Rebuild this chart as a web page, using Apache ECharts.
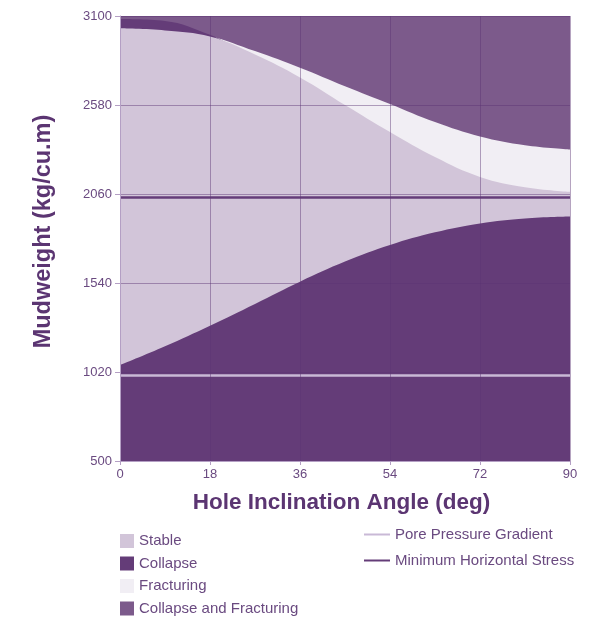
<!DOCTYPE html>
<html>
<head>
<meta charset="utf-8">
<script src="https://cdn.jsdelivr.net/npm/echarts@6/dist/echarts.min.js"></script>
<style>
  html, body { margin: 0; padding: 0; background: #fff; }
  #chart { width: 604px; height: 619px; }
</style>
</head>
<body>
<div id="chart"></div>
<script>
// hole inclination (deg)
const angles = [0, 9, 18, 27, 36, 45, 54, 63, 72, 81, 90]
// collapse limit (lower)
const collapseLow = [1060, 1170, 1290, 1418, 1548, 1665, 1762, 1836, 1888, 1917, 1928]
// lower fracturing limit (top of stable window)
const fracLow = [3028, 3016, 2980, 2875, 2741, 2580, 2422, 2276, 2160, 2100, 2073]
// upper fracturing limit
const fracHigh = [3060, 3050, 2985, 2895, 2798, 2690, 2586, 2480, 2396, 2345, 2320]
// upper collapse band, only at low inclination
const highAngles = [0, 9, 18, 22]
const collapseHigh = [3082, 3071, 2990, 2930]
const porePressure = 1000
const minHorizStress = 2040
const yTicks = [500, 1020, 1540, 2060, 2580, 3100]
const xTicks = [0, 18, 36, 54, 72, 90]

const textColor = '#6a4a80'
const titleColor = '#5b3572'
const fontFamily = '"Liberation Sans", Arial, sans-serif'

function pairs(xs, ys) {
  return xs.map((a, i) => [a, ys[i]])
}

function band(name, color, xs, ys) {
  return {
    name: name,
    type: 'line',
    smooth: 0.4,
    symbol: 'none',
    color: color,
    lineStyle: { width: 0, opacity: 0 },
    areaStyle: { color: color, opacity: 1, origin: 'start' },
    data: pairs(xs, ys)
  }
}

function flat(name, color, y) {
  return {
    name: name,
    type: 'line',
    symbol: 'none',
    color: color,
    lineStyle: { width: 2.5, color: color },
    z: 5,
    data: [[xTicks[0], y], [xTicks[xTicks.length - 1], y]]
  }
}

const chart = echarts.init(document.getElementById('chart'))
chart.setOption({
  animation: false,
  textStyle: { fontFamily: fontFamily },
  grid: { left: 120, top: 16, right: 34, bottom: 158 },
  legend: [
    {
      orient: 'vertical',
      left: 120,
      top: 533.5,
      height: 100,
      padding: 0,
      icon: 'rect',
      itemWidth: 14,
      itemHeight: 14,
      itemGap: 7.5,
      textStyle: { color: textColor, fontSize: 15, fontFamily: fontFamily },
      data: ['Stable', 'Collapse', 'Fracturing', 'Collapse and Fracturing']
    },
    {
      orient: 'vertical',
      left: 364,
      top: 527,
      height: 80,
      padding: 0,
      icon: 'rect',
      itemWidth: 26,
      itemHeight: 2,
      itemGap: 11,
      textStyle: { color: textColor, fontSize: 15, fontFamily: fontFamily },
      data: ['Pore Pressure Gradient', 'Minimum Horizontal Stress']
    }
  ],
  xAxis: {
    type: 'value',
    min: 0,
    max: 90,
    interval: 18,
    z: 10,
    name: 'Hole Inclination Angle (deg)',
    nameLocation: 'middle',
    nameGap: 30,
    nameTextStyle: { color: titleColor, fontSize: 22.5, fontWeight: 'bold', padding: [0, 7, 0, 0] },
    axisLine: { lineStyle: { color: '#b49fc4' } },
    axisTick: { show: true, length: 4, lineStyle: { color: '#b49fc4' } },
    axisLabel: { color: textColor, fontSize: 13, margin: 7, formatter: v => String(v) },
    splitLine: { show: true, lineStyle: { color: 'rgba(90,50,115,0.45)', width: 1 } }
  },
  yAxis: {
    type: 'value',
    min: 500,
    max: 3100,
    interval: 520,
    z: 10,
    name: 'Mudweight (kg/cu.m)',
    nameLocation: 'middle',
    nameGap: 64,
    nameTextStyle: { color: titleColor, fontSize: 23.5, fontWeight: 'bold', padding: [0, 0, 0, 14] },
    axisLine: { show: true, lineStyle: { color: '#b49fc4' } },
    axisTick: { show: true, length: 5, lineStyle: { color: '#b49fc4' } },
    axisLabel: { color: textColor, fontSize: 13, margin: 8, formatter: v => String(v) },
    splitLine: { show: true, lineStyle: { color: 'rgba(90,50,115,0.45)', width: 1 } }
  },
  series: [
    band('Collapse and Fracturing', '#7c5a8b', angles, angles.map(() => yTicks[yTicks.length - 1])),
    band('Fracturing', '#f1eef4', angles, fracHigh),
    band('Collapse', '#643c78', highAngles, collapseHigh),
    band('Stable', '#d2c5d9', angles, fracLow),
    band('Collapse', '#643c78', angles, collapseLow),
    flat('Pore Pressure Gradient', '#c9b9d6', porePressure),
    flat('Minimum Horizontal Stress', '#643c78', minHorizStress)
  ]
})
</script>
</body>
</html>
